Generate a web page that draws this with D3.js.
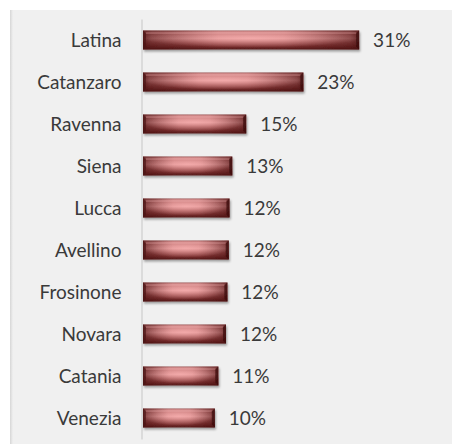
<!DOCTYPE html>
<html>
<head>
<meta charset="utf-8">
<script src="https://cdn.jsdelivr.net/npm/d3@7"></script>
<style>
  html, body { margin: 0; padding: 0; background: #ffffff; }
  svg { display: block; }
</style>
</head>
<body>
<svg id="chart" width="452" height="444"></svg>
<script>
const categories = ["Latina", "Catanzaro", "Ravenna", "Siena", "Lucca", "Avellino", "Frosinone", "Novara", "Catania", "Venezia"];
const values = [31.0, 23.0, 14.8, 12.8, 12.4, 12.3, 12.1, 11.9, 10.8, 10.3];

const svg = d3.select("#chart");
const W = 452, H = 444;
const FONT = "Lato, 'Open Sans', sans-serif";
const FS = 19;

const defs = svg.append("defs");

const lg = defs.append("linearGradient").attr("id", "panelShade").attr("x1", 0).attr("x2", 1).attr("y1", 0).attr("y2", 0);
lg.append("stop").attr("offset", "0%").attr("stop-color", "#d6d6d6");
lg.append("stop").attr("offset", "100%").attr("stop-color", "#f0f0f0");

const vg = defs.append("linearGradient").attr("id", "vgrad").attr("x1", 0).attr("x2", 0).attr("y1", 0).attr("y2", 1);
[["0%", "#8a3c3c"], ["7%", "#d28c8c"], ["18%", "#c47676"], ["42%", "#da8e8e"], ["62%", "#a85858"], ["84%", "#7a3030"], ["100%", "#541818"]]
  .forEach(([o, c]) => vg.append("stop").attr("offset", o).attr("stop-color", c));

const hg = defs.append("linearGradient").attr("id", "hgrad").attr("x1", 0).attr("x2", 1).attr("y1", 0).attr("y2", 0);
[["0%", 0.8], ["4%", 0.55], ["35%", 0], ["65%", 0], ["96%", 0.55], ["100%", 0.8]]
  .forEach(([o, a]) => hg.append("stop").attr("offset", o).attr("stop-color", "#4a1010").attr("stop-opacity", a));

const rg = defs.append("radialGradient").attr("id", "glow").attr("cx", "50%").attr("cy", "40%").attr("r", "50%");
rg.append("stop").attr("offset", "0%").attr("stop-color", "#ffb8b8").attr("stop-opacity", 0.65);
rg.append("stop").attr("offset", "100%").attr("stop-color", "#ffb8b8").attr("stop-opacity", 0);

const f = defs.append("filter").attr("id", "shadow").attr("x", "-10%").attr("y", "-30%").attr("width", "130%").attr("height", "180%");
f.append("feDropShadow").attr("dx", 1).attr("dy", 2).attr("stdDeviation", 1.3).attr("flood-color", "#000").attr("flood-opacity", 0.35);

svg.append("rect").attr("x", 11).attr("y", 10).attr("width", W - 11).attr("height", H - 10).attr("fill", "#f0f0f0");
svg.append("rect").attr("x", 10).attr("y", 10).attr("width", 3).attr("height", H - 10).attr("fill", "url(#panelShade)");

const x = d3.scaleLinear().domain([0, 35]).range([143, 387]);
const y = d3.scaleBand().domain(categories).range([19, 439]).paddingInner(0.55).paddingOuter(0.275);

const yAxis = d3.axisLeft(y).tickSize(0).tickPadding(20);
const ga = svg.append("g").attr("transform", `translate(${x(0) - 1.5},0)`).call(yAxis);
ga.select(".domain").attr("stroke", "#d4d4d4").attr("stroke-width", 1.5);
ga.selectAll("text").attr("font-family", FONT).attr("font-size", FS).attr("fill", "#3a3a3a").attr("dy", "0.35em");

const data = categories.map((c, i) => ({ c, v: values[i] }));
const bars = svg.append("g").selectAll("g").data(data).join("g").attr("filter", "url(#shadow)");
const bh = y.bandwidth();

bars.append("rect").attr("x", x(0)).attr("y", d => y(d.c)).attr("width", d => x(d.v) - x(0)).attr("height", bh).attr("fill", "url(#vgrad)");
bars.append("rect").attr("x", x(0)).attr("y", d => y(d.c)).attr("width", d => x(d.v) - x(0)).attr("height", bh).attr("fill", "url(#hgrad)");
bars.append("rect").attr("x", x(0)).attr("y", d => y(d.c)).attr("width", d => x(d.v) - x(0)).attr("height", bh).attr("fill", "url(#glow)");
bars.append("path").attr("d", d => {
  const x0 = x(0), y0 = y(d.c), b = 3;
  return `M${x0},${y0}L${x0 + b},${y0 + b}L${x0 + b},${y0 + bh - b}L${x0},${y0 + bh}Z`;
}).attr("fill", "#4a1414").attr("opacity", 0.6);
bars.append("path").attr("d", d => {
  const x1 = x(d.v), y0 = y(d.c), b = 3;
  return `M${x1},${y0}L${x1 - b},${y0 + b}L${x1 - b},${y0 + bh - b}L${x1},${y0 + bh}Z`;
}).attr("fill", "#3a0c0c").attr("opacity", 0.7);
bars.append("line").attr("x1", d => x(0) + 3).attr("x2", d => x(d.v) - 3).attr("y1", d => y(d.c) + 2.5).attr("y2", d => y(d.c) + 2.5)
  .attr("stroke", "#f0b0b0").attr("stroke-opacity", 0.5).attr("stroke-width", 1);

svg.append("g").selectAll("text").data(data).join("text")
  .attr("x", d => x(d.v) + 14).attr("y", d => y(d.c) + bh / 2).attr("dy", "0.35em")
  .attr("font-family", FONT).attr("font-size", FS).attr("fill", "#3a3a3a")
  .text(d => d3.format(".0%")(d.v / 100));
</script>
</body>
</html>
